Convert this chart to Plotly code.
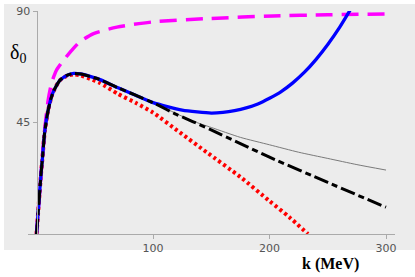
import plotly.graph_objects as go

# ---- data (k in MeV, delta0 in degrees) ----
k_common = [0, 2, 4, 5, 7, 10, 14, 20, 26, 32, 38]
d_common = [0, 12.5, 25, 30, 41, 50, 57, 62, 64, 64.8, 64.6]

k_blue = [46, 54.5, 70, 85, 100, 125, 150, 160, 170, 180, 190, 200, 210, 220, 230, 240, 250, 260, 270, 275]
d_blue = [63.6, 62.3, 59, 56, 53, 50, 48.8, 49.1, 49.8, 50.9, 52.5, 54.8, 57.5, 61, 65.3, 70.5, 76.5, 83.3, 91, 95]

k_black = [46, 54.5, 70, 85, 100, 120, 134, 149, 175, 200, 250, 300]
d_black = [63.6, 62.3, 59, 56, 53, 48.3, 45.4, 42.2, 36.5, 31, 20.8, 10.8]

k_gray = [46, 54.5, 70, 85, 100, 120, 134, 150, 175, 200, 225, 250, 275, 300]
d_gray = [63.6, 62.3, 59, 56, 53, 48.6, 45.6, 43, 39, 36, 33, 30.5, 28, 25.8]

k_red = [46, 54.5, 70, 85, 100, 123, 146, 175, 200, 217, 233]
d_red = [62.6, 61, 56.5, 53, 49, 41, 33, 23, 13.3, 6.8, 0]

k_mag = [0, 4, 7, 10, 13, 17, 23, 30, 37, 48.5, 69, 100, 150, 203, 250, 301]
d_mag = [0, 25, 42, 54, 61, 66, 70, 74, 77.5, 80.8, 83.5, 85.6, 87, 88, 88.5, 88.8]

x_ticks = [100, 200, 300]
y_ticks = [45, 90]

fig = go.Figure()

def add(kx, dy, color, width, dash):
    fig.add_trace(go.Scatter(
        x=kx, y=dy, mode="lines",
        line=dict(color=color, width=width, dash=dash,
                  shape="spline", smoothing=0.6),
        hoverinfo="skip", showlegend=False))

add(k_common + k_gray, d_common + d_gray, "#7a7a7a", 1, "solid")
add(k_common[:8] + [26, 32, 38] + k_red, d_common[:8] + [63.8, 64.4, 64.0] + d_red, "#ff0000", 4, "3px,3px")
add(k_mag, d_mag, "#ff00ff", 3.5, "17px,9px")
add(k_common + k_blue, d_common + d_blue, "#0000ff", 3.3, "solid")
add(k_common + k_black, d_common + d_black, "#000000", 3, "15px,4px,6px,4px")

L, R, T, B = 28, 20, 11, 43
W, H = 415, 277
pw = W - L - R
ph = H - T - B
x0 = -7.3
x1 = 307.7
ypos = (36.5 - L) / pw

def px(x):
    return (x - L) / pw

def py(y):
    return (T + ph - y) / ph

fig.add_shape(type="rect", xref="paper", yref="paper",
              x0=px(4), x1=px(415), y0=py(250), y1=py(4),
              fillcolor="#ececec", line=dict(width=0), layer="below")

fig.add_annotation(text="δ<sub>0</sub>", xref="paper", yref="paper",
                   x=px(18), y=py(53), xanchor="center", yanchor="middle",
                   showarrow=False,
                   font=dict(family="Liberation Serif", size=20, color="black"))
fig.add_annotation(text="<b>k (MeV)</b>", xref="paper", yref="paper",
                   x=px(330), y=py(264), xanchor="center", yanchor="middle",
                   showarrow=False,
                   font=dict(family="Liberation Serif", size=16, color="black"))

tickfont = dict(family="DejaVu Sans", size=11, color="#555555")
fig.update_layout(
    width=W, height=H,
    margin=dict(l=L, r=R, t=T, b=B, autoexpand=False),
    paper_bgcolor="white", plot_bgcolor="rgba(0,0,0,0)",
    xaxis=dict(range=[x0, x1], showgrid=False, zeroline=False,
               showline=True, linecolor="#aaaaaa", linewidth=1,
               ticks="outside", ticklen=4, tickcolor="#aaaaaa",
               tickvals=x_ticks, tickfont=tickfont, automargin=False),
    yaxis=dict(range=[0, 90], showgrid=False, zeroline=False,
               showline=True, linecolor="#aaaaaa", linewidth=1,
               anchor="free", position=ypos,
               ticks="outside", ticklen=4, tickcolor="#aaaaaa",
               tickvals=y_ticks, tickfont=tickfont, automargin=False),
)

fig.write_html("out.html", config={"displayModeBar": False, "staticPlot": True},
               post_script="document.body.style.margin='0';document.body.style.padding='0';")
